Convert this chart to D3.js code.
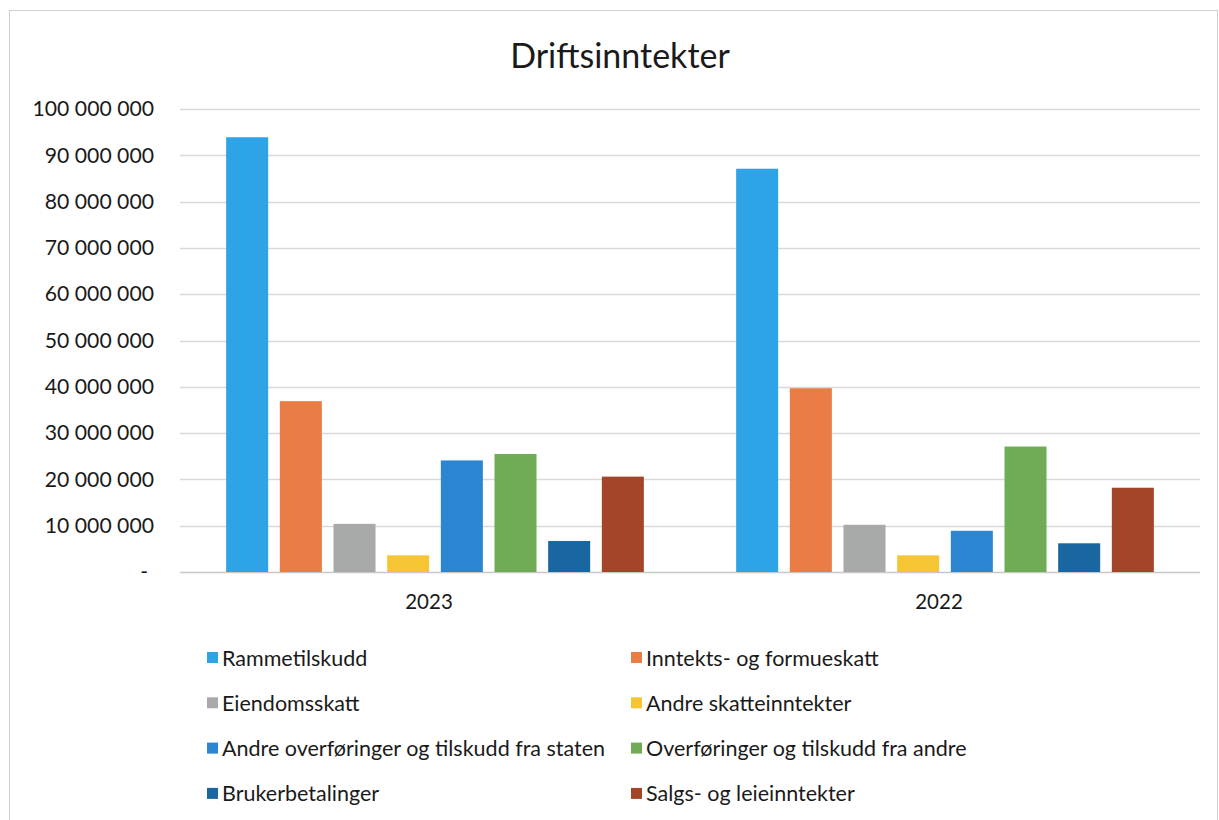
<!DOCTYPE html>
<html>
<head>
<meta charset="utf-8">
<script src="https://cdn.jsdelivr.net/npm/d3@7"></script>
<style>
  body { margin: 0; background: #fff; }
  text { font-family: Lato, "Open Sans", sans-serif; fill: #1a1a1a; }
</style>
</head>
<body>
<div id="chart"></div>
<script>
// data
let years = ["2023", "2022"];
let series = ["Rammetilskudd", "Inntekts- og formueskatt", "Eiendomsskatt", "Andre skatteinntekter",
              "Andre overføringer og tilskudd fra staten", "Overføringer og tilskudd fra andre",
              "Brukerbetalinger", "Salgs- og leieinntekter"];
let values2023 = [93900000, 36900000, 10400000, 3600000, 24100000, 25500000, 6700000, 20600000];
let values2022 = [87100000, 39700000, 10200000, 3600000, 8900000, 27100000, 6200000, 18200000];
let yTicks = [0, 10000000, 20000000, 30000000, 40000000, 50000000, 60000000, 70000000, 80000000, 90000000, 100000000];
let colorList = ["#2ea3e6", "#e97d45", "#a8aaa9", "#f5c533", "#2b85d1", "#6fac55", "#1a66a0", "#a34528"];

let dim = {'width': 1219, 'height': 820};

let svg = d3.select('#chart').append('svg')
    .attr('width', dim.width)
    .attr('height', dim.height);

// chart frame
svg.append('rect')
    .attr('x', 9.5).attr('y', 10.5)
    .attr('width', 1208).attr('height', 830)
    .attr('fill', 'none')
    .attr('stroke', '#cfcfcf');

let valuesByYear = {"2023": values2023, "2022": values2022};
let rows = [];
years.forEach(y => series.forEach((s, i) => rows.push({year: y, series: s, value: valuesByYear[y][i]})));

let scaleX = d3.scaleBand()
    .domain(years)
    .range([180, 1200]);

let scaleInner = d3.scaleBand()
    .domain(series)
    .range([0, scaleX.bandwidth()])
    .paddingInner(0.217)
    .paddingOuter(0.86);

let scaleY = d3.scaleLinear()
    .domain([0, 100000000])
    .range([572, 109]);

let colors = d3.scaleOrdinal()
    .domain(series)
    .range(colorList);

// gridlines
svg.append('g')
    .selectAll('line')
    .data(yTicks)
    .join('line')
    .attr('x1', 180).attr('x2', 1200)
    .attr('y1', d => Math.round(scaleY(d)) + 0.5)
    .attr('y2', d => Math.round(scaleY(d)) + 0.5)
    .attr('stroke', d => d === 0 ? '#c8c8c8' : '#d9d9d9')
    .attr('stroke-width', 1.3);

// y axis labels
let fmt = d => d === 0 ? '-' : d3.format(',')(d).replace(/,/g, ' ');
let axisY = svg.append('g')
    .attr('transform', 'translate(154,0)')
    .call(d3.axisLeft(scaleY).tickValues(yTicks).tickSize(0).tickPadding(0).tickFormat(fmt));
axisY.select('.domain').remove();
axisY.selectAll('text')
    .attr('font-size', 21.2)
    .attr('font-family', 'Lato, sans-serif')
    .attr('fill', '#1a1a1a')
    .attr('dx', d => d === 0 ? -6 : 0);

// bars
svg.append('g')
    .selectAll('rect')
    .data(rows)
    .join('rect')
    .attr('x', d => scaleX(d.year) + scaleInner(d.series))
    .attr('y', d => scaleY(d.value))
    .attr('width', scaleInner.bandwidth())
    .attr('height', d => scaleY(0) - scaleY(d.value))
    .attr('fill', d => colors(d.series));

// x axis labels
let axisX = svg.append('g')
    .attr('transform', 'translate(-6,572)')
    .call(d3.axisBottom(scaleX).tickSize(0).tickPadding(22));
axisX.select('.domain').remove();
axisX.selectAll('text')
    .attr('font-size', 20.5)
    .attr('font-family', 'Lato, sans-serif')
    .attr('fill', '#1a1a1a');

// title
svg.append('text')
    .attr('x', 620).attr('y', 68)
    .attr('text-anchor', 'middle')
    .attr('font-size', 34)
    .text('Driftsinntekter');

// legend, two columns
let legend = svg.append('g')
    .selectAll('g')
    .data(series)
    .join('g')
    .attr('transform', (d, i) => `translate(${i % 2 === 0 ? 207 : 631},${658 + Math.floor(i / 2) * 45.3})`);

legend.append('rect')
    .attr('x', 0).attr('y', -6)
    .attr('width', 11).attr('height', 11)
    .attr('fill', d => colors(d));

legend.append('text')
    .attr('x', 15).attr('y', 7.5)
    .attr('font-size', 21.5)
    .text(d => d);
</script>
</body>
</html>
